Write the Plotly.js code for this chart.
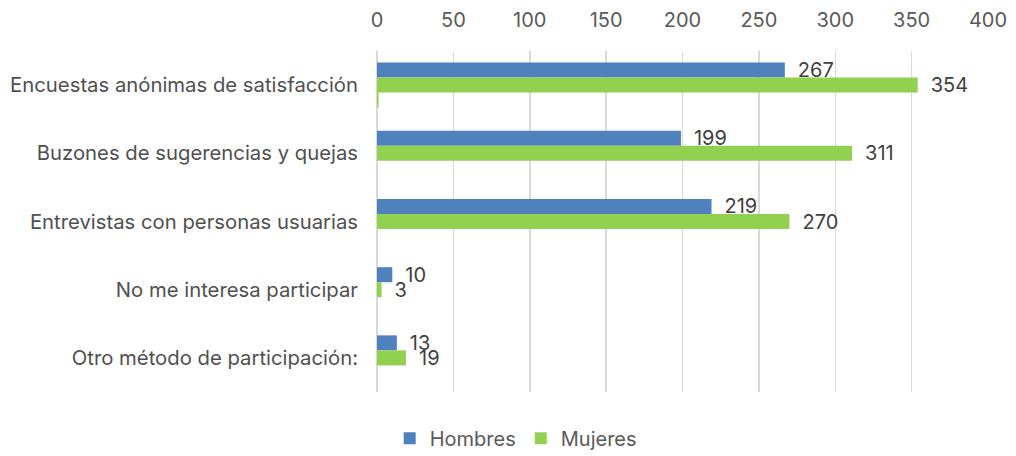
<!DOCTYPE html>
<html>
<head>
<meta charset="utf-8">
<script src="https://cdn.plot.ly/plotly-3.0.1.min.js"></script>
<style>html,body{margin:0;padding:0;background:#fff;}#chart{width:1016px;height:456px;}</style>
</head>
<body>
<div id="chart"></div>
<script>
const categories = [
  "Encuestas anónimas de satisfacción",
  "Buzones de sugerencias y quejas",
  "Entrevistas con personas usuarias",
  "No me interesa participar",
  "Otro método de participación:"
];
const hombres = [267, 199, 219, 10, 13];
const mujeres = [354, 311, 270, 3, 19];
const otros = [1, 0, 0, 0, 0];
const tickVals = [0, 50, 100, 150, 200, 250, 300, 350, 400];

const FONT = "Inter, 'Noto Sans', sans-serif";
const labelFont = {family: FONT, size: 20, color: "#404040"};

const traces = [
  {type: "bar", orientation: "h", name: "Hombres", y: categories, x: hombres,
   marker: {color: "#4F81BD"}, text: hombres.map(v => "\u2002" + v), textposition: "outside",
   constraintext: "none", textfont: labelFont, cliponaxis: false, hoverinfo: "x+name"},
  {type: "bar", orientation: "h", name: "Mujeres", y: categories, x: mujeres,
   marker: {color: "#92D050"}, text: mujeres.map(v => "\u2002" + v), textposition: "outside",
   constraintext: "none", textfont: labelFont, cliponaxis: false, hoverinfo: "x+name"},
  {type: "bar", orientation: "h", name: "Otros", y: categories, x: otros,
   marker: {color: "#92D050"}, showlegend: false, hoverinfo: "x"}
];

const layout = {
  width: 1016, height: 456,
  margin: {l: 377, r: 28, t: 51, b: 64, autoexpand: false},
  paper_bgcolor: "#ffffff", plot_bgcolor: "#ffffff",
  barmode: "group", bargap: 0.34, bargroupgap: 0,
  font: {family: FONT, size: 20, color: "#595959"},
  xaxis: {side: "top", range: [0, 400], tickvals: tickVals, ticktext: tickVals.map(String),
          showgrid: true, gridcolor: "#d9d9d9", gridwidth: 1.5, zeroline: true, zerolinecolor: "#d9d9d9",
          zerolinewidth: 1.5, ticks: "", ticklabelstandoff: 19, showline: false, fixedrange: true,
          automargin: false, tickfont: {family: FONT, size: 20, color: "#595959"}},
  yaxis: {autorange: "reversed", type: "category", ticks: "", showgrid: false, showline: false,
          automargin: false, ticklabelstandoff: 18, tickfont: {family: FONT, size: 20.3, color: "#505050"}},
  legend: {orientation: "h", x: 0.227, xanchor: "center", yref: "container", y: 0.039, yanchor: "middle",
           font: {family: FONT, size: 20, color: "#595959"}, traceorder: "normal"},
  showlegend: true
};

Plotly.newPlot("chart", traces, layout, {displayModeBar: false, staticPlot: true});
</script>
</body>
</html>
